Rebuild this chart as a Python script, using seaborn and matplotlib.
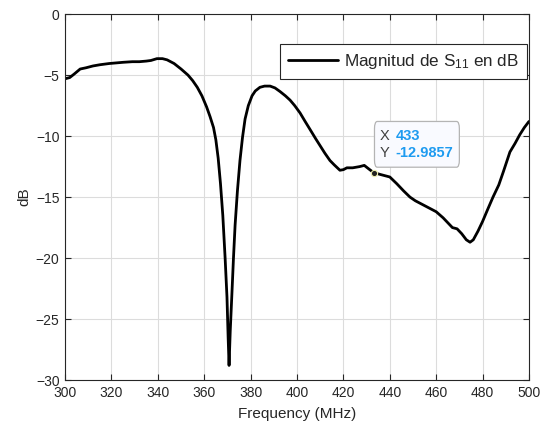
import matplotlib
matplotlib.use("Agg")
import matplotlib.pyplot as plt
from matplotlib.patches import FancyBboxPatch
import numpy as np
import pandas as pd
import seaborn as sns

# S11 magnitude (MHz, dB)
freq_mhz = [300, 302, 304, 306.5, 309, 312, 315, 319, 322, 325, 329, 332, 335, 337, 339.6,
            342, 344, 347, 350, 353, 355, 357, 359, 361, 362.5, 364, 365, 366, 367, 368,
            369, 369.8, 370.3, 370.7, 371.2, 372, 372.6, 373.3, 374.3, 375.4, 376.5, 377.6,
            379, 380.6, 382, 384, 386, 388.4, 390.5, 392.7, 395, 397, 399, 401.3, 403.5,
            405.6, 408, 410, 412, 414.2, 416, 418.5, 420, 421.5, 424, 427, 429, 431, 433,
            436, 440, 443, 446, 448.7, 451, 454, 457, 460, 463, 465, 467, 469, 471, 473,
            474.6, 476, 478, 480, 482, 484.5, 487, 489, 491.8, 494, 496, 498, 500]
mag_db = [-5.3, -5.2, -4.9, -4.5, -4.4, -4.25, -4.15, -4.05, -4.0, -3.95, -3.9, -3.9, -3.85,
          -3.8, -3.65, -3.65, -3.75, -4.05, -4.5, -5.0, -5.45, -6.0, -6.7, -7.6, -8.4, -9.3,
          -10.3, -11.8, -13.9, -16.5, -20.0, -23.2, -26.5, -28.8, -26.0, -22.6, -20.0, -17.3,
          -14.5, -12.0, -10.1, -8.6, -7.5, -6.7, -6.3, -6.0, -5.9, -5.9, -6.05, -6.35, -6.7,
          -7.05, -7.5, -8.1, -8.8, -9.45, -10.2, -10.8, -11.4, -12.0, -12.35, -12.8, -12.75,
          -12.6, -12.6, -12.5, -12.4, -12.7, -12.99, -13.15, -13.35, -13.9, -14.5, -15.0,
          -15.3, -15.6, -15.9, -16.2, -16.7, -17.1, -17.5, -17.6, -18.0, -18.5, -18.7, -18.5,
          -17.8, -17.0, -16.1, -15.0, -14.0, -12.9, -11.3, -10.6, -9.9, -9.3, -8.8]
tip_x = 433
tip_y = -12.9857

df = pd.DataFrame({"Frequency (MHz)": freq_mhz, "dB": mag_db})

sns.set_style("whitegrid")
plt.rcParams["font.family"] = ["Liberation Sans", "DejaVu Sans"]
plt.rcParams["mathtext.fontset"] = "custom"
plt.rcParams["mathtext.rm"] = "Liberation Sans"
plt.rcParams["mathtext.it"] = "Liberation Sans"

fig = plt.figure(figsize=(5.47, 4.28), dpi=100)
ax = fig.add_axes([0.119, 0.112, 0.848, 0.855])

sns.lineplot(data=df, x="Frequency (MHz)", y="dB", color="black", linewidth=2.0,
             label=r"Magnitud de S$_{11}$ en dB", ax=ax, sort=False)

ax.set_xlim(300, 500)
ax.set_ylim(-30, 0)
ax.set_xticks(np.arange(300, 501, 20))
ax.set_yticks(np.arange(-30, 1, 5))
ax.grid(True, color="#dcdcdc", linewidth=0.8)
for s in ax.spines.values():
    s.set_color("#262626")
    s.set_linewidth(0.8)
ax.tick_params(direction="in", length=4, colors="#262626", labelsize=10,
               top=True, right=True, bottom=True, left=True, pad=4)
ax.set_xlabel("Frequency (MHz)", fontsize=11, color="#262626", labelpad=5)
ax.set_ylabel("dB", fontsize=11, color="#262626", labelpad=3)

leg = ax.legend(loc="upper right", bbox_to_anchor=(0.996, 0.918), borderaxespad=0,
                fontsize=12.3, frameon=True, fancybox=False, handlelength=2.9,
                borderpad=0.45, handletextpad=0.4)
leg.get_frame().set_edgecolor("#262626")
leg.get_frame().set_linewidth(0.8)
leg.get_frame().set_alpha(1)

# data tip
ax.plot([tip_x], [tip_y], "o", color="#222222", markersize=4.5,
        markeredgecolor="#f0f0b0", markeredgewidth=0.8, zorder=5)
box = FancyBboxPatch((433.4, -12.55), 36.6, 3.75, boxstyle="round,pad=0,rounding_size=1.2",
                     mutation_aspect=0.5, fc="#f9faff", ec="#b4b4b4", lw=0.9, zorder=6)
ax.add_patch(box)
ax.text(435.8, -10.0, "X", fontsize=10.5, color="#404040", va="center", ha="left", zorder=7)
ax.text(442.6, -10.0, str(tip_x), fontsize=10.5, color="#1e9bf0", fontweight="bold",
        va="center", ha="left", zorder=7)
ax.text(435.8, -11.4, "Y", fontsize=10.5, color="#404040", va="center", ha="left", zorder=7)
ax.text(442.6, -11.4, f"{tip_y:.4f}", fontsize=10.5, color="#1e9bf0", fontweight="bold",
        va="center", ha="left", zorder=7)

fig.savefig("out.png", dpi=100)
